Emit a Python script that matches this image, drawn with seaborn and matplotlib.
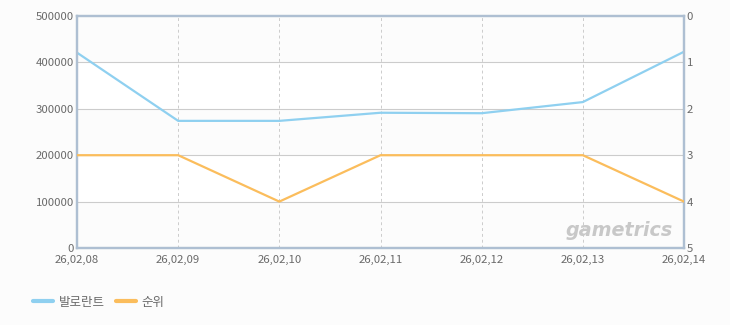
import matplotlib
matplotlib.use("Agg")
import matplotlib.pyplot as plt
import seaborn as sns
import pandas as pd
from matplotlib.lines import Line2D

dates = ["26,02,08", "26,02,09", "26,02,10", "26,02,11", "26,02,12", "26,02,13", "26,02,14"]
players = [421000, 274000, 274000, 291500, 290500, 314500, 423000]
ranks = [3, 3, 4, 3, 3, 3, 4]
left_ticks = [0, 100000, 200000, 300000, 400000, 500000]
right_ticks = [0, 1, 2, 3, 4, 5]
series_names = ["발로란트", "순위"]

sns.set_theme(style="white")
plt.rcParams['font.family'] = ['Noto Sans CJK KR', 'DejaVu Sans']

blue = "#8fd0f0"
orange = "#fbbd5c"
spine_c = "#aebfd2"
grid_c = "#cccccc"
text_c = "#6a6a6a"

df = pd.DataFrame({"x": list(range(len(dates))), "players": players, "rank": ranks})

fig = plt.figure(figsize=(7.3, 3.25), dpi=100, facecolor="#fcfcfc")
ax = fig.add_axes([77/730, 1-248/325, (684-77)/730, (248-16)/325])
ax.set_facecolor("#fcfcfc")

# alternating bands
for i in range(len(left_ticks)-1):
    if i % 2 == 1:
        ax.axhspan(left_ticks[i], left_ticks[i+1], color="white", zorder=0, lw=0)

ax2 = ax.twinx()
sns.lineplot(data=df, x="x", y="players", ax=ax, color=blue, lw=1.6, zorder=5)
sns.lineplot(data=df, x="x", y="rank", ax=ax2, color=orange, lw=1.6, zorder=5)

ax.set_xlim(0, len(dates)-1)
ax.set_ylim(0, 500000)
ax2.set_ylim(5, 0)
ax.set_xticks(range(len(dates)))
ax.set_xticklabels(dates)
ax.set_yticks(left_ticks)
ax.set_yticklabels([str(v) for v in left_ticks])
ax2.set_yticks(right_ticks)
ax2.set_yticklabels([str(v) for v in right_ticks])
ax.set_xlabel("")
ax.set_ylabel("")
ax2.set_ylabel("")

for v in left_ticks[1:-1]:
    ax.axhline(v, color=grid_c, lw=0.8, zorder=1)
for i in range(1, len(dates)-1):
    ax.axvline(i, color=grid_c, lw=0.7, ls=(0, (3, 3)), zorder=1)

for a in (ax, ax2):
    for s in a.spines.values():
        s.set_color(spine_c)
        s.set_linewidth(1.6)
    a.tick_params(axis="both", length=0, colors=text_c, labelsize=8.2, pad=2)
ax.tick_params(axis="x", pad=5)

ax.text(0.982, 0.035, "gametrics", transform=ax.transAxes, ha="right", va="bottom",
        fontsize=13.8, fontstyle="italic", fontweight="bold", color="#c8c8c8",
        family="DejaVu Sans", zorder=2)

handles = [Line2D([0], [0], color=blue, lw=3), Line2D([0], [0], color=orange, lw=3)]
fig.legend(handles, series_names, loc="lower left", bbox_to_anchor=(22/730, 5/325),
           ncol=2, frameon=False, fontsize=9, handlelength=1.6, columnspacing=0.9,
           labelcolor=text_c, handletextpad=0.45)

fig.savefig("out.png", dpi=100, facecolor=fig.get_facecolor())
